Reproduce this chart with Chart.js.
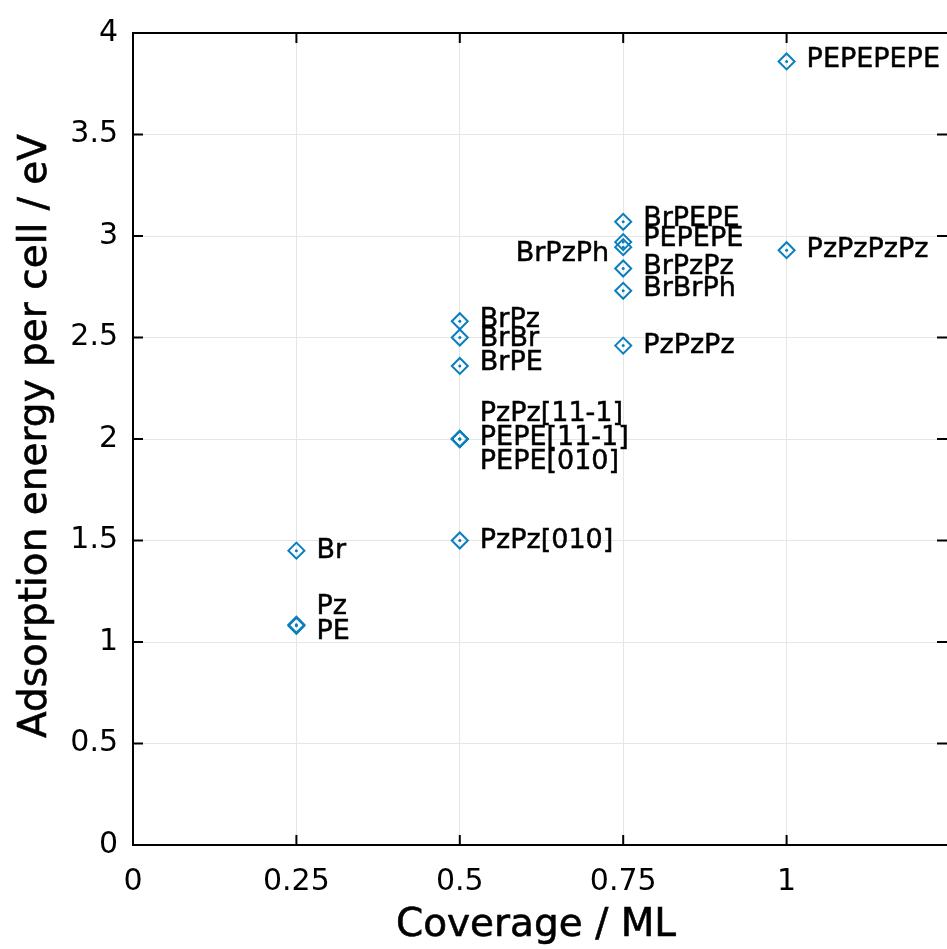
<!DOCTYPE html>
<html>
<head>
<meta charset="utf-8">
<script src="https://cdn.jsdelivr.net/npm/chart.js@4.4.1/dist/chart.umd.min.js"></script>
<style>
  html, body { margin: 0; padding: 0; background: #fff; overflow: hidden; }
  #wrap { width: 960px; height: 949px; }
</style>
</head>
<body>
<div id="wrap"><canvas id="c" width="960" height="949"></canvas></div>
<script>
// ---- data ----
const structures = ['Br','Pz','PE','BrPz','BrBr','BrPE','PzPz[11-1]','PEPE[11-1]','PEPE[010]','PzPz[010]',
                    'BrPEPE','PEPEPE','BrPzPh','BrPzPz','BrBrPh','PzPzPz','PEPEPEPE','PzPzPzPz'];
const coverage   = [0.25,0.25,0.25,0.5,0.5,0.5,0.5,0.5,0.5,0.5,0.75,0.75,0.75,0.75,0.75,0.75,1,1];
const energy     = [1.45,1.085,1.08,2.58,2.50,2.36,2.0,2.0,2.0,1.50,3.07,2.97,2.945,2.84,2.73,2.46,3.86,2.93];
const xTicks = [0,0.25,0.5,0.75,1];
const yTicks = [0,0.5,1,1.5,2,2.5,3,3.5,4];

// ---- label placement (style only) ----
const labelDy    = [0,-18,6,-1,1,-3,-25,-1,23,0,-3,-3,7,-1,-2,0,-1,0];
const labelAlign = ['left','left','left','left','left','left','left','left','left','left',
                    'left','left','right','left','left','left','left','left'];

const BLUE = '#0a7fbf';
const FONT = '"DejaVu Sans", sans-serif';
const pts = coverage.map((x,i)=>({x:x, y:energy[i]}));

function heavyText(ctx, s, x, y) {
  ctx.fillText(s, x, y);
  ctx.strokeText(s, x, y);
}

const decor = {
  id: 'decor',
  afterDatasetsDraw(chart) {
    const ctx = chart.ctx;
    const meta = chart.getDatasetMeta(0);
    ctx.save();
    ctx.fillStyle = BLUE;
    meta.data.forEach(p => { ctx.beginPath(); ctx.arc(p.x, p.y, 1.5, 0, Math.PI*2); ctx.fill(); });
    ctx.fillStyle = '#000';
    ctx.strokeStyle = '#000';
    ctx.lineWidth = 0.5;
    ctx.font = '27px ' + FONT;
    ctx.textBaseline = 'middle';
    meta.data.forEach((p,i) => {
      ctx.textAlign = labelAlign[i];
      const dx = labelAlign[i] === 'right' ? -14 : 20;
      heavyText(ctx, structures[i], p.x + dx, p.y + labelDy[i]);
    });
    ctx.restore();
  },
  afterDraw(chart) {
    const ctx = chart.ctx, xs = chart.scales.x, ys = chart.scales.y, a = chart.chartArea;
    ctx.save();
    ctx.strokeStyle = '#000';
    ctx.lineWidth = 2;
    ctx.beginPath();
    ctx.moveTo(a.left - 1, a.top); ctx.lineTo(a.right + 2, a.top);
    ctx.stroke();
    const L = 10;
    const rightEdge = 947;
    ctx.beginPath();
    xTicks.forEach(v => {
      const px = xs.getPixelForValue(v);
      ctx.moveTo(px, a.bottom); ctx.lineTo(px, a.bottom - L);
      ctx.moveTo(px, a.top); ctx.lineTo(px, a.top + L);
    });
    yTicks.forEach(v => {
      const py = ys.getPixelForValue(v);
      ctx.moveTo(a.left, py); ctx.lineTo(a.left + L, py);
      ctx.moveTo(rightEdge, py); ctx.lineTo(rightEdge - L, py);
    });
    ctx.stroke();
    ctx.fillStyle = '#000';
    ctx.strokeStyle = '#000';
    ctx.lineWidth = 0.6;
    ctx.font = '39px ' + FONT;
    ctx.textAlign = 'center';
    ctx.textBaseline = 'middle';
    heavyText(ctx, 'Coverage / ML', 536, 926);
    ctx.translate(36, 436);
    ctx.rotate(-Math.PI/2);
    ctx.font = '39px ' + FONT;
    heavyText(ctx, 'Adsorption energy per cell / eV', 0, 0);
    ctx.restore();
  }
};

new Chart(document.getElementById('c'), {
  type: 'scatter',
  data: {
    datasets: [{
      data: pts,
      pointStyle: 'rectRot',
      pointRadius: 8,
      pointHoverRadius: 8,
      pointBorderWidth: 2,
      pointBackgroundColor: 'rgba(0,0,0,0)',
      pointBorderColor: BLUE,
      showLine: false
    }]
  },
  options: {
    responsive: false,
    animation: false,
    devicePixelRatio: 1,
    layout: { autoPadding: false, padding: { top: 30, right: 10, left: 0, bottom: 0 } },
    plugins: { legend: { display: false }, tooltip: { enabled: false } },
    scales: {
      x: {
        type: 'linear', min: 0, max: 1.25,
        afterBuildTicks: s => { s.ticks = xTicks.map(v => ({value: v})); },
        afterFit: s => { s.height = 104; },
        grid: { color: '#e6e6e6', lineWidth: 1, drawTicks: false },
        border: { color: '#000', width: 2 },
        ticks: { color: '#000', font: { family: FONT, size: 30 }, padding: 19, maxRotation: 0,
                 callback: v => String(v) }
      },
      y: {
        type: 'linear', min: 0, max: 4,
        afterBuildTicks: s => { s.ticks = yTicks.map(v => ({value: v})); },
        afterFit: s => { s.width = 133; },
        grid: { color: '#e6e6e6', lineWidth: 1, drawTicks: false },
        border: { color: '#000', width: 2 },
        ticks: { color: '#000', font: { family: FONT, size: 30 }, padding: 15,
                 callback: v => String(v) }
      }
    }
  },
  plugins: [decor]
});
</script>
</body>
</html>
